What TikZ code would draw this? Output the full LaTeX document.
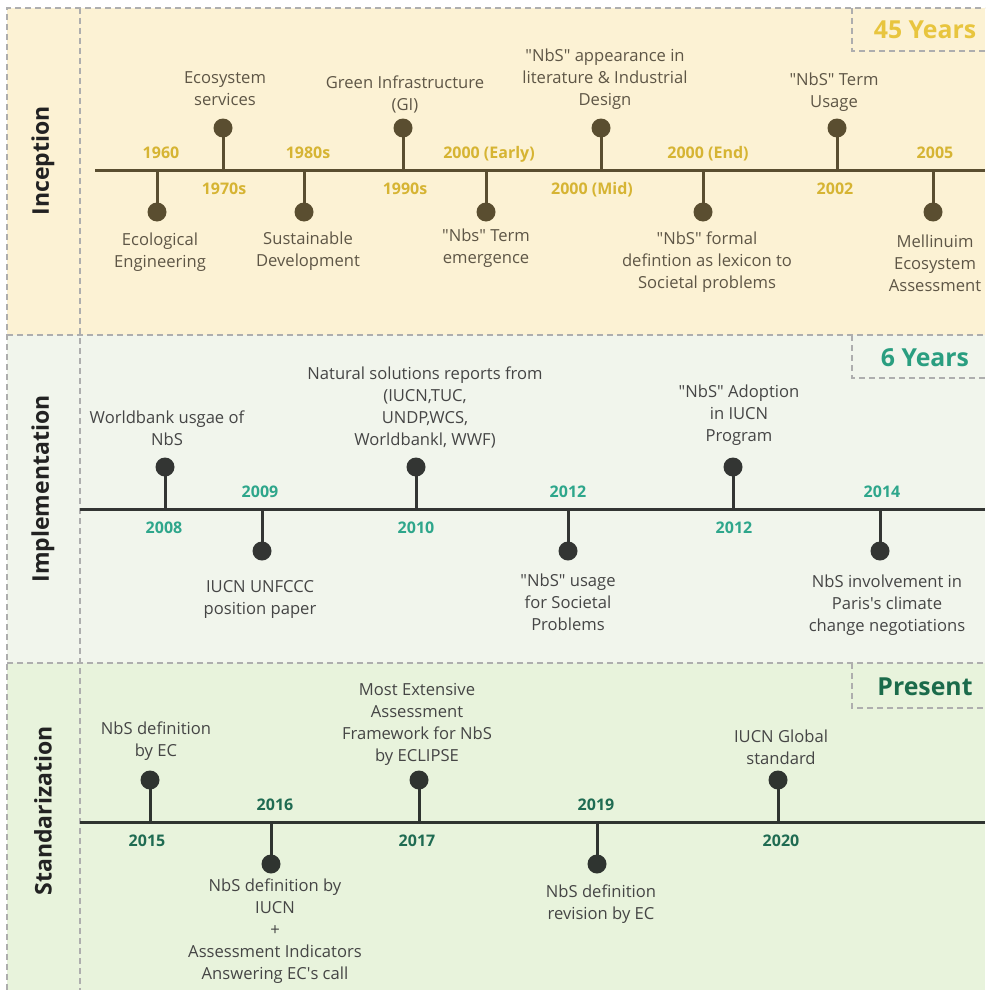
\documentclass[tikz,border=0pt]{standalone}
\usepackage{fontspec}
\setmainfont{Open Sans}
\usetikzlibrary{calc}

% palette
\definecolor{incbg}{HTML}{FCF2D4}
\definecolor{impbg}{HTML}{F1F5EC}
\definecolor{stdbg}{HTML}{E8F3DC}
\definecolor{incline}{HTML}{5A4E30}
\definecolor{incyear}{HTML}{D6B433}
\definecolor{inctext}{HTML}{5E5646}
\definecolor{impline}{HTML}{333533}
\definecolor{impyear}{HTML}{2EA68B}
\definecolor{stdline}{HTML}{2F3430}
\definecolor{stdyear}{HTML}{1F6B52}
\definecolor{gentext}{HTML}{454545}
\definecolor{framecol}{HTML}{AEAEAE}
\definecolor{tagA}{HTML}{E8C53E}
\definecolor{tagB}{HTML}{2A9E80}
\definecolor{tagC}{HTML}{1B6B4B}
\definecolor{titlecol}{HTML}{222222}

% straight double quotes around a word
\newcommand{\sq}[1]{\textquotedbl#1\textquotedbl}

% event above the line: name, stem x, line y, year, year x, text x, text y, text
\newcommand{\tlUp}[8]{%
  \coordinate (#1-base) at (#2,#3);
  \node[evdot] (#1-dot) at (#2,#3-42) {};
  \draw[evstem] (#1-dot.center) -- (#1-base);
  \node[evyear, anchor=base] (#1-year) at (#5,#3+24) {#4};
  \node[evtext, anchor=south] (#1-text) at (#6,#7) {#8\strut};
}
% event below the line
\newcommand{\tlDown}[8]{%
  \coordinate (#1-base) at (#2,#3);
  \node[evdot] (#1-dot) at (#2,#3+42) {};
  \draw[evstem] (#1-dot.center) -- (#1-base);
  \node[evyear, anchor=base] (#1-year) at (#5,#3-12) {#4};
  \node[evtext, anchor=north] (#1-text) at (#6,#7) {\strut#8};
}

\begin{document}
\begin{tikzpicture}[x=1pt,y=-1pt,
  border/.style={draw=framecol, line width=1.2pt, dash pattern=on 6pt off 4pt},
  evdot/.style={circle, fill=incline, inner sep=0pt, minimum size=19pt},
  evstem/.style={draw=incline, line width=3pt},
  tline/.style={draw=incline, line width=3pt},
  yearfont/.style={font=\fontsize{16}{18}\selectfont\bfseries, inner sep=0pt},
  labelfont/.style={font=\fontsize{16.6}{22}\selectfont, align=center, inner sep=0pt},
  evyear/.style={yearfont, text=incyear},
  evtext/.style={labelfont, text=inctext},
  tag/.style={font=\fontsize{24.8}{28}\selectfont\bfseries, inner sep=0pt},
  sectitle/.style={text=titlecol, font=\fontsize{23}{26}\selectfont\bfseries, rotate=90, inner sep=0pt}
]
\useasboundingbox (0,0) rectangle (985,990);

% section backgrounds
\fill[incbg] (7,8) rectangle (985,335);
\fill[impbg] (7,335) rectangle (985,663);
\fill[stdbg] (7,663) rectangle (985,990);

% dashed frame, dividers and corner tabs
\draw[border] (7,990) -- (7,8) -- (985,8);
\draw[border] (7,335) -- (985,335);
\draw[border] (7,663) -- (985,663);
\draw[border] (80,8) -- (80,990);
\draw[border] (852,8) -- (852,51) -- (985,51);
\draw[border] (852,335) -- (852,378) -- (985,378);
\draw[border] (852,663) -- (852,708) -- (985,708);

\node[tag, text=tagA] (tagInc) at (925,30) {45 Years};
\node[tag, text=tagB] (tagImp) at (925,358) {6 Years};
\node[tag, text=tagC] (tagStd) at (925,687) {Present};

\node[sectitle] (secInc) at (43,161) {Inception};
\node[sectitle] (secImp) at (43,489) {Implementation};
\node[sectitle] (secStd) at (43,811) {Standarization};

% ---------- Inception ----------
\coordinate (incL) at (95,170);
\coordinate (incR) at (985,170);
\draw[tline] (incL) -- (incR);
\tlDown{e1960}{157}{170}{1960}{161}{160}{230}{Ecological\\Engineering}
\tlUp{e1970}{223}{170}{1970s}{224}{225}{112}{Ecosystem\\services}
\tlDown{e1980}{304}{170}{1980s}{308}{308}{229}{Sustainable\\Development}
\tlUp{e1990}{403}{170}{1990s}{405}{405}{117}{Green Infrastructure\\(GI)}
\tlDown{e2000a}{486}{170}{2000 (Early)}{489}{486}{226}{\sq{Nbs} Term\\emergence}
\tlUp{e2000b}{601}{170}{2000 (Mid)}{592}{605}{112}{\sq{NbS} appearance in\\literature \& Industrial\\Design}
\tlDown{e2000c}{703}{170}{2000 (End)}{708}{707}{229}{\sq{NbS} formal\\defintion as lexicon to\\Societal problems}
\tlUp{e2002}{837}{170}{2002}{835}{834}{114}{\sq{NbS} Term\\Usage}
\tlDown{e2005}{933}{170}{2005}{935}{935}{232}{Mellinuim\\Ecosystem\\Assessment}

% ---------- Implementation ----------
\begin{scope}[
  evdot/.style={circle, fill=impline, inner sep=0pt, minimum size=19pt},
  evstem/.style={draw=impline, line width=3pt},
  tline/.style={draw=impline, line width=3pt},
  evyear/.style={yearfont, text=impyear},
  evtext/.style={labelfont, text=gentext}]
\coordinate (impL) at (80,509);
\coordinate (impR) at (985,509);
\draw[tline] (impL) -- (impR);
\tlUp{e2008}{165}{509}{2008}{164}{167}{452}{Worldbank usgae of\\NbS}
\tlDown{e2009}{262}{509}{2009}{260}{260}{577}{IUCN UNFCCC\\position paper}
\tlUp{e2010}{416}{509}{2010}{416}{425}{452}{Natural solutions reports from\\(IUCN,TUC,\\UNDP,WCS,\\Worldbankl, WWF)}
\tlDown{e2012a}{568}{509}{2012}{568}{568}{571}{\sq{NbS} usage\\for Societal\\Problems}
\tlUp{e2012b}{733}{509}{2012}{734}{739}{448}{\sq{NbS} Adoption\\in IUCN\\Program}
\tlDown{e2014}{880}{509}{2014}{882}{887}{572}{NbS involvement in\\Paris\textquotesingle s climate\\change negotiations}
\end{scope}

% ---------- Standardization ----------
\begin{scope}[
  evdot/.style={circle, fill=stdline, inner sep=0pt, minimum size=19pt},
  evstem/.style={draw=stdline, line width=3pt},
  tline/.style={draw=stdline, line width=3pt},
  evyear/.style={yearfont, text=stdyear},
  evtext/.style={labelfont, text=gentext}]
\coordinate (stdL) at (80,822);
\coordinate (stdR) at (985,822);
\draw[tline] (stdL) -- (stdR);
\tlUp{e2015}{150}{822}{2015}{147}{156}{763}{NbS definition\\by EC}
\tlDown{e2016}{271}{822}{2016}{275}{275}{876}{NbS definition by\\IUCN\\+\\Assessment Indicators\\Answering EC\textquotesingle s call}
\tlUp{e2017}{419}{822}{2017}{417}{417}{768}{Most Extensive\\Assessment\\Framework for NbS\\by ECLIPSE}
\tlDown{e2019}{597}{822}{2019}{596}{601}{882}{NbS definition\\revision by EC}
\tlUp{e2020}{778}{822}{2020}{781}{781}{771}{IUCN Global\\standard}
\end{scope}
\end{tikzpicture}
\end{document}
